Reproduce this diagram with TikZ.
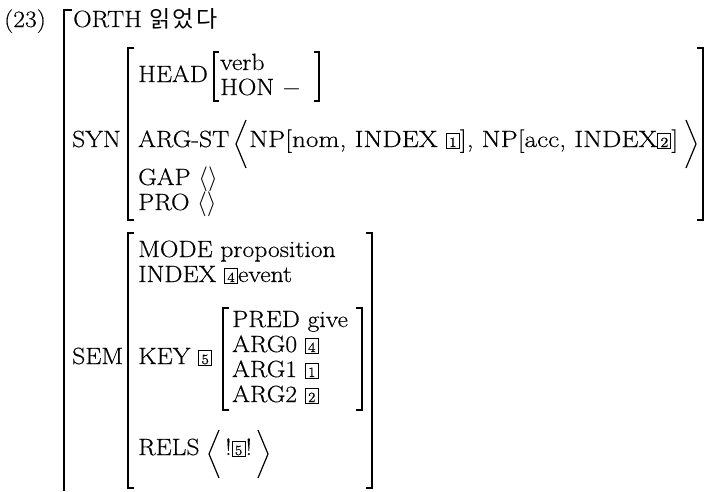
\documentclass[tikz,border=0pt]{standalone}
\usepackage{fontspec}
\setmainfont{Latin Modern Roman}[FakeStretch=1.09, FakeBold=0.4]
\newfontfamily\krfont{Noto Sans CJK KR}[LetterSpace=10]
% boxed tag numbers of the feature structure
\newcommand\bx[1]{{\setlength\fboxsep{0pt}\setlength\fboxrule{1pt}%
  \fbox{\makebox[12pt]{\rule[-0.5pt]{0pt}{13.5pt}\fontsize{14}{14}\selectfont #1}}}}
\tikzset{
  txt/.style={anchor=base west, inner sep=0pt, font=\fontsize{23.5}{27}\selectfont},
  brk/.style={line width=1.6pt, line cap=butt, line join=miter},
  ang/.style={line width=1.2pt, line join=miter}
}
\begin{document}
\begin{tikzpicture}[x=1pt,y=-1pt]
\useasboundingbox (0,0) rectangle (710,491);
\fill[white] (0,0) rectangle (710,491);

% example number and outer bracket
\node[txt] (num) at (4,27) {(23)};
\draw[brk] (72,10) -- (64,10) -- (64,491);
\node[txt] (orth) at (73,27) {ORTH};
\node[txt, font=\krfont\fontsize{23}{26}\selectfont] (word) at (149,27) {읽었다};

% SYN block
\node[txt] (synl) at (72,147) {SYN};
\draw[brk] (134,48) -- (128,48) -- (128,220) -- (134,220);
\draw[brk] (697,48) -- (703,48) -- (703,220) -- (697,220);
\node[txt] (head) at (138,82) {HEAD};
\draw[brk] (219,52) -- (214,52) -- (214,101) -- (219,101);
\draw[brk] (314,52) -- (319,52) -- (319,101) -- (314,101);
\node[txt] (verb) at (220,70) {verb};
\node[txt] (hon) at (220,95) {HON $-$};
\node[txt] (argst) at (138,147) {ARG-ST};
\draw[ang] (246,120) -- (236,144) -- (246,168);
\node[txt, font=\fontsize{23.5}{27}\selectfont\addfontfeature{FakeStretch=1.16}] (nps) at (249,147)
  {NP[nom, INDEX \bx{1}], NP[acc, INDEX\bx{2}]};
\draw[ang] (686,120) -- (696,144) -- (686,168);
\node[txt] (gap) at (138,185) {GAP $\langle\rangle$};
\node[txt] (pro) at (138,210) {PRO $\langle\rangle$};

% SEM block
\node[txt] (seml) at (72,364) {SEM};
\draw[brk] (134,233) -- (128,233) -- (128,488) -- (134,488);
\draw[brk] (366,233) -- (372,233) -- (372,488) -- (366,488);
\node[txt] (mode) at (138,257) {MODE proposition};
\node[txt] (index) at (138,282) {INDEX \bx{4}event};
\node[txt] (key) at (138,364) {KEY \bx{5}};
\draw[brk] (229,308) -- (223,308) -- (223,410) -- (229,410);
\draw[brk] (356,308) -- (362,308) -- (362,410) -- (356,410);
\node[txt] (pred) at (232,327) {PRED give};
\node[txt] (arga) at (232,352) {ARG0 \bx{4}};
\node[txt] (argb) at (232,377) {ARG1 \bx{1}};
\node[txt] (argc) at (232,402) {ARG2 \bx{2}};
\node[txt] (rels) at (138,455) {RELS};
\draw[ang] (219,430) -- (209,454) -- (219,478);
\node[txt] (relv) at (225,455) {!\bx{5}!};
\draw[ang] (258,430) -- (268,454) -- (258,478);
\end{tikzpicture}
\end{document}
